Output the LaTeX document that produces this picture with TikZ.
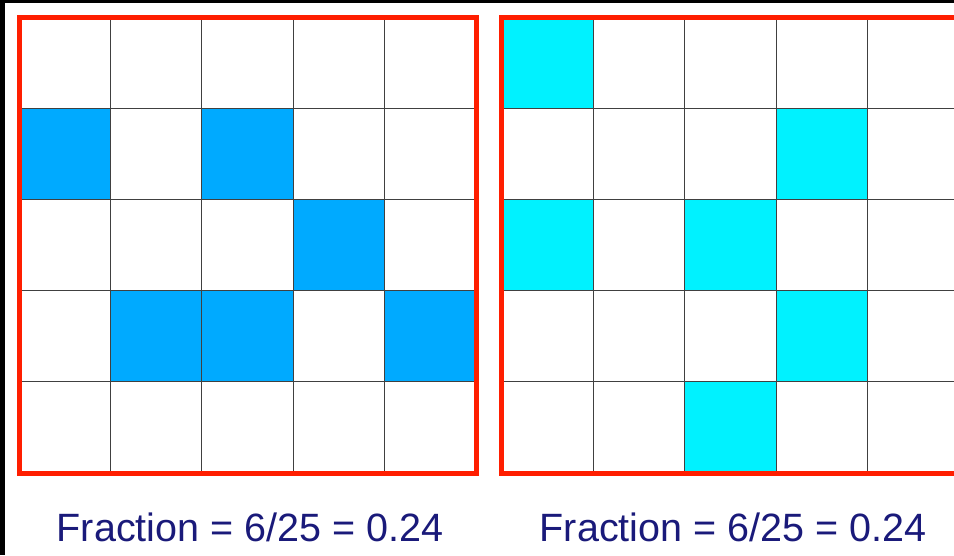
\documentclass[tikz,border=0pt]{standalone}
\usepackage{fontspec}
\setmainfont{Liberation Sans}
\usetikzlibrary{positioning}

\definecolor{cellblue}{RGB}{0,170,255}
\definecolor{cellcyan}{RGB}{0,242,255}
\definecolor{frame}{RGB}{255,30,0}
\definecolor{navy}{RGB}{26,26,122}

\tikzset{
  gridline/.style={draw=black!75, line width=1.1pt},
  frameline/.style={draw=frame, line width=5pt},
  caption/.style={text=navy, font=\fontsize{39.5}{40}\selectfont, inner sep=0pt}
}

\begin{document}
\begin{tikzpicture}[x=1pt, y=-1pt]
        % page
        \fill[black] (0,0) rectangle (954,555);
        \fill[white] (5,3) rectangle (954,555);
        \useasboundingbox (0,0) rectangle (954,555);
        \clip (0,0) rectangle (954,555);

        % left grid
        \begin{scope}[shift={(19,17.5)}, x=91.4pt, y=-91.1pt]
        \foreach \c/\r in {0/1, 2/1, 3/2, 1/3, 2/3, 4/3}
            \fill[cellblue] (\c,\r) rectangle ++(1,1);
        \foreach \i in {1,...,4} {
            \draw[gridline] (\i,0) -- (\i,5);
            \draw[gridline] (0,\i) -- (5,\i);
        }
        \draw[frameline] (0,0) rectangle (5,5);
        \end{scope}

        % right grid
        \begin{scope}[shift={(501.5,17.5)}, x=91.6pt, y=-91.1pt]
        \foreach \c/\r in {0/0, 3/1, 0/2, 2/2, 3/3, 2/4}
            \fill[cellcyan] (\c,\r) rectangle ++(1,1);
        \foreach \i in {1,...,4} {
            \draw[gridline] (\i,0) -- (\i,5);
            \draw[gridline] (0,\i) -- (5,\i);
        }
        \draw[frameline] (0,0) rectangle (5,5);
        \end{scope}

        \node[caption, anchor=base] (leftfrac) at (250,541) {Fraction = 6/25 = 0.24};
        \node[caption, anchor=base] (rightfrac) at (733,541) {Fraction = 6/25 = 0.24};
    \end{tikzpicture}
\end{document}
